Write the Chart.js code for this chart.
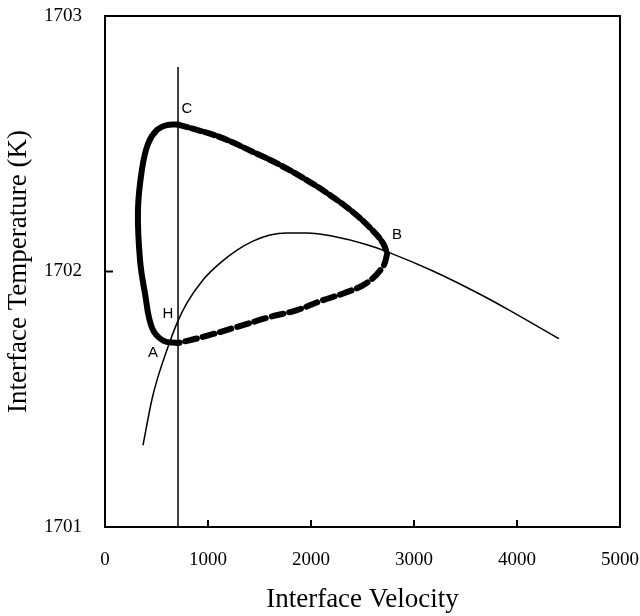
<!DOCTYPE html>
<html>
<head>
<meta charset="utf-8">
<script src="https://cdn.jsdelivr.net/npm/chart.js@4"></script>
<style>
  html,body{margin:0;padding:0;background:#fff;}
  #wrap{width:640px;height:616px;}
</style>
</head>
<body>
<div id="wrap"><canvas id="chart" width="640" height="616"></canvas></div>
<script>
// ===== data =====
// vertical line at constant velocity
let vLineV = [709, 709]
let vLineT = [1701, 1702.8]

// thin curve
let curveV = [369, 456, 505, 612, 699, 796, 951, 1117, 1282, 1437, 1602, 1767, 1961, 2214, 2544, 2748, 3184, 3641, 3932, 4408]
let curveT = [1701.32, 1701.50, 1701.575, 1701.705, 1701.798, 1701.877, 1701.967, 1702.033, 1702.084, 1702.119, 1702.143, 1702.151, 1702.151, 1702.138, 1702.105, 1702.076, 1702.002, 1701.911, 1701.847, 1701.737]

// loop: A -> left side -> C (dense part)
let loopLeftV = [709, 563, 456, 388, 340, 320, 359, 418, 505, 602, 709]
let loopLeftT = [1701.72, 1701.73, 1701.78, 1701.915, 1702.045, 1702.24, 1702.40, 1702.50, 1702.554, 1702.573, 1702.575]

// loop: C -> B (upper branch)
let loopUpV = [709, 825, 1117, 1437, 1699, 1990, 2155, 2400, 2600, 2700, 2740]
let loopUpT = [1702.575, 1702.562, 1702.526, 1702.468, 1702.417, 1702.35, 1702.307, 1702.235, 1702.16, 1702.11, 1702.07]

// loop: B -> A (lower branch)
let loopLowV = [2740, 2700, 2540, 2320, 2117, 1864, 1602, 1282, 951, 709]
let loopLowT = [1702.07, 1702.02, 1701.955, 1701.915, 1701.888, 1701.849, 1701.822, 1701.783, 1701.744, 1701.72]

// point labels
let markNames = ["A", "B", "C", "H"]
let markV = [466, 2835, 796, 612]
let markT = [1701.681, 1702.143, 1702.636, 1701.834]

let xTicks = [0, 1000, 2000, 3000, 4000, 5000]
let yTicks = [1701, 1702, 1703]

function pts(xs, ys){
  return xs.map(function(x,i){ return {x:x, y:ys[i]} })
}

// ===== frame, inside ticks and letters =====
const framePlugin = {
  id:"frame",
  afterDatasetsDraw(chart){
    let c = chart.ctx, a = chart.chartArea
    let xs = chart.scales.x, ys = chart.scales.y
    c.save()
    c.strokeStyle = "#000"
    c.lineWidth = 2
    c.strokeRect(a.left, a.top, a.right-a.left, a.bottom-a.top)
    c.beginPath()
    xTicks.forEach(function(v){
      let px = xs.getPixelForValue(v)
      c.moveTo(px, a.bottom); c.lineTo(px, a.bottom-7)
    })
    yTicks.forEach(function(v){
      let py = ys.getPixelForValue(v)
      c.moveTo(a.left, py); c.lineTo(a.left+8, py)
    })
    c.stroke()
    c.fillStyle = "#000"
    c.font = "15px 'Liberation Sans', Arial, sans-serif"
    c.textAlign = "center"
    c.textBaseline = "middle"
    markNames.forEach(function(n,i){
      c.fillText(n, xs.getPixelForValue(markV[i]), ys.getPixelForValue(markT[i]))
    })
    c.restore()
  }
}

let serif = "'Liberation Serif', 'Times New Roman', serif"

let chart = new Chart(document.getElementById("chart"), {
  type:"scatter",
  data:{
    datasets:[
      {
        data:pts(vLineV, vLineT), showLine:true, borderColor:"#000", borderWidth:1.5,
        pointRadius:0
      },
      {
        data:pts(curveV, curveT), showLine:true, borderColor:"#000", borderWidth:1.5,
        pointRadius:0, cubicInterpolationMode:"monotone"
      },
      {
        data:pts(loopLeftV, loopLeftT), showLine:true, borderColor:"#000", borderWidth:6,
        pointRadius:0, tension:0.4, borderCapStyle:"round"
      },
      {
        data:pts(loopUpV, loopUpT), showLine:true, borderColor:"#000", borderWidth:6,
        pointRadius:0, tension:0.4, borderDash:[10,4], borderCapStyle:"round"
      },
      {
        data:pts(loopLowV, loopLowT), showLine:true, borderColor:"#000", borderWidth:6,
        pointRadius:0, tension:0.4, borderDash:[12,6], borderCapStyle:"round"
      }
    ]
  },
  options:{
    responsive:false,
    animation:false,
    events:[],
    layout:{ padding:{ left:0, right:20, top:16, bottom:0 } },
    plugins:{ legend:{display:false}, tooltip:{enabled:false} },
    scales:{
      x:{
        type:"linear", min:0, max:5000,
        afterBuildTicks(s){ s.ticks = xTicks.map(function(v){ return {value:v} }) },
        afterFit(s){ s.height = 89; s.paddingLeft = 0; s.paddingRight = 0 },
        grid:{ display:false, drawTicks:false },
        border:{ display:false },
        ticks:{ color:"#000", padding:22, font:{ family:serif, size:19 },
                callback:function(v){ return String(v) } },
        title:{ display:true, text:"Interface Velocity", color:"#000",
                padding:{top:0, bottom:0}, font:{ family:serif, size:27 } }
      },
      y:{
        type:"linear", min:1701, max:1703,
        afterBuildTicks(s){ s.ticks = yTicks.map(function(v){ return {value:v} }) },
        afterFit(s){ s.width = 105; s.paddingTop = 0; s.paddingBottom = 0 },
        grid:{ display:false, drawTicks:false },
        border:{ display:false },
        ticks:{ color:"#000", padding:23, font:{ family:serif, size:19 },
                callback:function(v){ return String(v) } },
        title:{ display:true, text:"Interface Temperature (K)", color:"#000",
                padding:{top:3, bottom:0}, font:{ family:serif, size:27 } }
      }
    }
  },
  plugins:[framePlugin]
})
</script>
</body>
</html>
